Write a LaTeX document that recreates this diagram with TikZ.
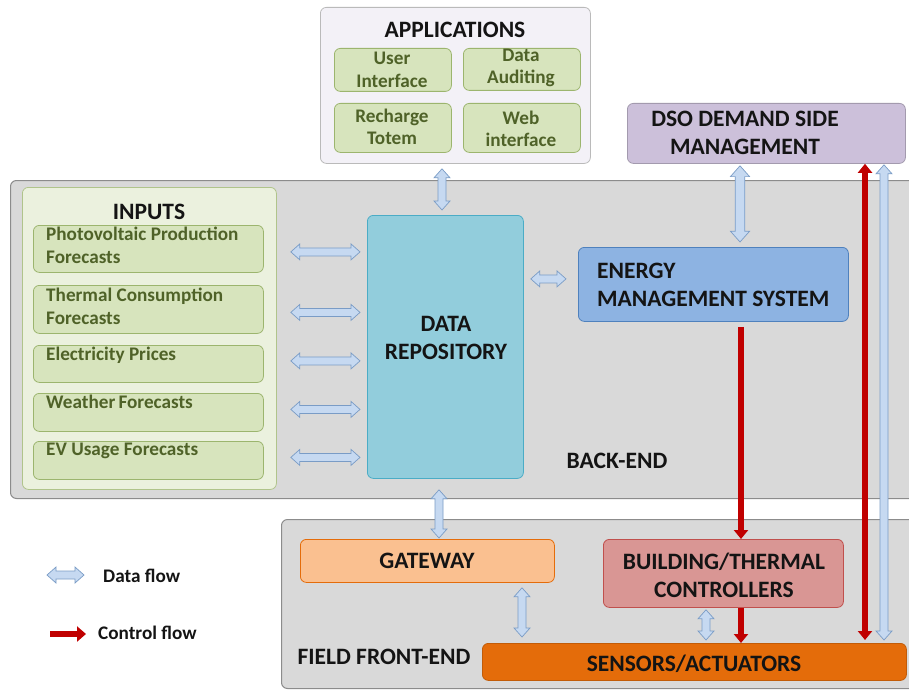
\documentclass[tikz,border=0pt]{standalone}
\usepackage{fontspec}
\setmainfont{Carlito}
\usetikzlibrary{calc,arrows.meta}
\definecolor{bgback}{HTML}{D9D9D9}
\definecolor{bdback}{HTML}{8C8C8C}
\definecolor{appbg}{HTML}{F3F1F7}
\definecolor{greenfill}{HTML}{D7E4BD}
\definecolor{greenbd}{HTML}{9CB56E}
\definecolor{greentxt}{HTML}{4F6228}
\definecolor{inbg}{HTML}{EBF1DE}
\definecolor{dsofill}{HTML}{CCC0DA}
\definecolor{drfill}{HTML}{92CDDC}
\definecolor{drbd}{HTML}{4BACC6}
\definecolor{emsfill}{HTML}{8DB3E2}
\definecolor{emsbd}{HTML}{4F81BD}
\definecolor{gwfill}{HTML}{FAC090}
\definecolor{gwbd}{HTML}{E46C0A}
\definecolor{btcfill}{HTML}{D99694}
\definecolor{btcbd}{HTML}{C0504D}
\definecolor{safill}{HTML}{E46C0A}
\definecolor{arrfill}{HTML}{C6D9F1}
\definecolor{arrbd}{HTML}{7A9CC6}
\definecolor{ctrl}{HTML}{C00000}
\definecolor{titletxt}{HTML}{141414}
\tikzset{
  box/.style={rectangle, rounded corners=6pt, line width=0.8pt, inner sep=0pt},
  greenbox/.style={box, fill=greenfill, draw=greenbd},
  titlefont/.style={font=\fontsize{23.5}{28}\selectfont\bfseries, text=titletxt, align=center, inner sep=0pt},
  smallfont/.style={font=\fontsize{19.2}{22.5}\selectfont\bfseries, text=greentxt, inner sep=0pt},
  legendfont/.style={font=\fontsize{19.2}{22}\selectfont\bfseries, text=titletxt, inner sep=0pt, anchor=west},
  dataflow/.style={fill=arrfill, draw=arrbd, line width=0.7pt, line join=miter},
  ctrlflow/.style={draw=ctrl, line width=5.5pt, -{Triangle[length=9pt,width=14pt]}},
  ctrlflow2/.style={draw=ctrl, line width=5.5pt, {Triangle[length=9pt,width=14pt]}-{Triangle[length=9pt,width=14pt]}},
}
\newcommand{\dflow}[3][1]{%
  \pgfmathsetlengthmacro{\Ls}{9pt*#1}%
  \pgfmathsetlengthmacro{\Hs}{8pt*#1}%
  \pgfmathsetlengthmacro{\Ss}{4pt*#1}%
  \coordinate (dfA) at #2;
  \coordinate (dfB) at #3;
  \filldraw[dataflow] (dfA) -- ($(dfA)!\Ls!(dfB)!\Hs!90:(dfB)$) -- ($(dfA)!\Ls!(dfB)!\Ss!90:(dfB)$)
    -- ($(dfB)!\Ls!(dfA)!\Ss!-90:(dfA)$) -- ($(dfB)!\Ls!(dfA)!\Hs!-90:(dfA)$) -- (dfB)
    -- ($(dfB)!\Ls!(dfA)!\Hs!90:(dfA)$) -- ($(dfB)!\Ls!(dfA)!\Ss!90:(dfA)$)
    -- ($(dfA)!\Ls!(dfB)!\Ss!-90:(dfB)$) -- ($(dfA)!\Ls!(dfB)!\Hs!-90:(dfB)$) -- cycle;}
\begin{document}
\begin{tikzpicture}[x=1pt,y=-1pt]
\useasboundingbox[fill=white] (0,0) rectangle (909,690);
% containers
\node[box, fill=bgback, draw=bdback, line width=1pt, minimum width=910, minimum height=318, anchor=north west] (back) at (10,180) {};
\node[box, fill=bgback, draw=bdback, line width=1pt, minimum width=640, minimum height=169, anchor=north west] (field) at (281,519) {};
\node[box, fill=appbg, draw=bdback!60, minimum width=270, minimum height=156, anchor=north west] (app) at (320,7) {};
\node[box, fill=inbg, draw=greenbd!80, minimum width=254, minimum height=302, anchor=north west] (inputs) at (22,187) {};
% applications
\node[titlefont] (apptitle) at (455,30) {APPLICATIONS};
\node[greenbox, minimum width=117, minimum height=43, anchor=north west] (ui) at (334,48) {};
\node[greenbox, minimum width=117, minimum height=42, anchor=north west] (da) at (463,48) {};
\node[greenbox, minimum width=117, minimum height=49, anchor=north west] (rt) at (334,103) {};
\node[greenbox, minimum width=117, minimum height=49, anchor=north west] (wi) at (463,103) {};
\node[smallfont, align=center] (uit) at (392,70) {User\\Interface};
\node[smallfont, align=center] (dat) at (521,68) {Data\\Auditing};
\node[smallfont, align=center] (rtt) at (392,127) {Recharge\\Totem};
\node[smallfont, align=center] (wit) at (521,129) {Web\\interface};
% DSO
\node[box, fill=dsofill, draw=dsofill!80!black, minimum width=278, minimum height=60, anchor=north west] (dso) at (627,103) {};
\node[titlefont] (dsot) at (745,133) {DSO DEMAND SIDE\\MANAGEMENT};
% inputs
\node[titlefont] (inputst) at (149,212) {INPUTS};
\node[greenbox, minimum width=230, minimum height=47, anchor=north west] (in1) at (33,225) {};
\node[greenbox, minimum width=230, minimum height=48, anchor=north west] (in2) at (33,285) {};
\node[greenbox, minimum width=230, minimum height=37, anchor=north west] (in3) at (33,345) {};
\node[greenbox, minimum width=230, minimum height=38, anchor=north west] (in4) at (33,393) {};
\node[greenbox, minimum width=230, minimum height=38, anchor=north west] (in5) at (33,441) {};
\node[smallfont, align=left, anchor=north west] (in1t) at (46,227) {Photovoltaic Production\\Forecasts};
\node[smallfont, align=left, anchor=north west] (in2t) at (46,288) {Thermal Consumption\\Forecasts};
\node[smallfont, align=left, anchor=north west] (in3t) at (46,347) {Electricity Prices};
\node[smallfont, align=left, anchor=north west] (in4t) at (46,395) {Weather\,Forecasts};
\node[smallfont, align=left, anchor=north west] (in5t) at (46,443) {EV Usage Forecasts};
% data repository
\node[box, fill=drfill, draw=drbd, minimum width=156, minimum height=263, anchor=north west] (dr) at (367,215) {};
\node[titlefont] (drt) at (446,338) {DATA\\REPOSITORY};
% EMS
\node[box, fill=emsfill, draw=emsbd, minimum width=270, minimum height=74, anchor=north west] (ems) at (578,247) {};
\node[titlefont, align=left, anchor=west] (emst) at (597,285) {ENERGY\\MANAGEMENT SYSTEM};
\node[titlefont] (backt) at (617,461) {BACK-END};
% field front-end
\node[box, fill=gwfill, draw=gwbd, minimum width=254, minimum height=43, anchor=north west] (gw) at (300,539) {};
\node[titlefont] (gwt) at (427,561) {GATEWAY};
\node[box, fill=btcfill, draw=btcbd, minimum width=240, minimum height=68, anchor=north west] (btc) at (603,539) {};
\node[titlefont] (btct) at (724,575) {BUILDING/THERMAL\\CONTROLLERS};
\node[box, fill=safill, draw=safill!85!black, minimum width=424, minimum height=37, anchor=north west] (sa) at (482,643) {};
\node[titlefont] (sat) at (694,664) {SENSORS/ACTUATORS};
\node[titlefont] (fieldt) at (384,657) {FIELD FRONT-END};
% data flows: inputs <-> repository
\dflow{($(in1.east)+(27,3)$)}{($(dr.west |- in1.east)+(-7,3)$)}
\dflow{($(in2.east)+(27,3)$)}{($(dr.west |- in2.east)+(-7,3)$)}
\dflow{($(in3.east)+(27,-3)$)}{($(dr.west |- in3.east)+(-7,-3)$)}
\dflow{($(in4.east)+(27,-3)$)}{($(dr.west |- in4.east)+(-7,-3)$)}
\dflow{($(in5.east)+(27,-3)$)}{($(dr.west |- in5.east)+(-7,-3)$)}
% other data flows
\coordinate (xapp) at (442,0);
\dflow{($(app.south -| xapp)+(0,5)$)}{($(dr.north -| xapp)+(0,-5)$)}
\coordinate (xgw) at (439,0);
\dflow{($(dr.south -| xgw)+(0,11)$)}{($(gw.north -| xgw)+(0,-1)$)}
\dflow{($(dr.east)+(7,-68)$)}{($(ems.west |- dr.east)+(-12,-68)$)}
\coordinate (xdso) at (740,0);
\dflow[1.2]{($(dso.south -| xdso)+(0,2)$)}{($(ems.north -| xdso)+(0,-5)$)}
\coordinate (xgs) at (522,0);
\dflow{($(gw.south -| xgs)+(0,5)$)}{($(sa.north -| xgs)+(0,-6)$)}
\coordinate (xbs) at (706,0);
\dflow{($(btc.south -| xbs)+(0,2)$)}{($(sa.north -| xbs)+(0,-3)$)}
\coordinate (xrb) at (884,0);
\dflow{($(dso.south -| xrb)+(0,1)$)}{($(sa.north -| xrb)+(0,-3)$)}
% control flows
\coordinate (xctl) at (741,0);
\draw[ctrlflow] ($(ems.south -| xctl)+(0,5)$) -- (btc.north -| xctl);
\draw[ctrlflow] (btc.south -| xctl) -- (sa.north -| xctl);
\coordinate (xrr) at (865,0);
\draw[ctrlflow2] (dso.south -| xrr) -- ($(sa.north -| xrr)+(0,-3)$);
% legend
\coordinate (lgda) at (47,575);
\coordinate (lgdb) at (84,575);
\dflow{(lgda)}{(lgdb)}
\node[legendfont] (lgdt) at (103,576) {Data flow};
\coordinate (lgca) at (50,634);
\coordinate (lgcb) at (86,634);
\draw[ctrlflow, line width=6.5pt, -{Triangle[length=9pt,width=15pt]}] (lgca) -- (lgcb);
\node[legendfont] (lgct) at (98,633) {Control flow};
\end{tikzpicture}
\end{document}
